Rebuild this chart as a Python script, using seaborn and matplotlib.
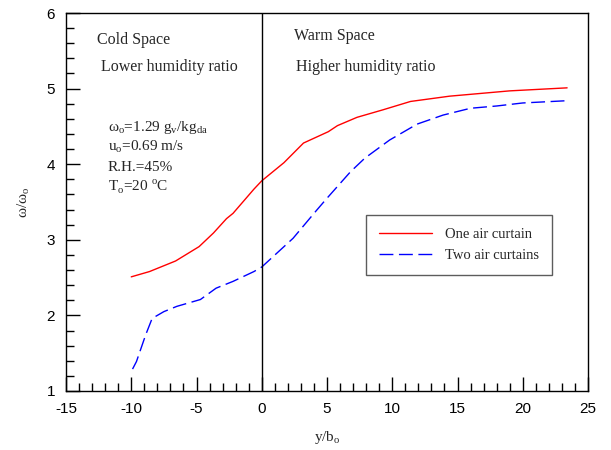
import numpy as np
import pandas as pd
import matplotlib
matplotlib.use("Agg")
import matplotlib.pyplot as plt
from matplotlib.ticker import MultipleLocator
import seaborn as sns

# --- data ---
x_one = [-10.0, -8.6, -6.6, -4.8, -3.7, -2.7, -2.2, -1.3, -0.6, 0.0, 1.7, 3.2, 5.1, 5.8, 7.3, 9.3, 11.4, 14.4, 19.0, 23.4]
y_one = [2.51, 2.58, 2.72, 2.91, 3.09, 3.28, 3.35, 3.53, 3.67, 3.78, 4.02, 4.28, 4.43, 4.51, 4.62, 4.72, 4.83, 4.90, 4.97, 5.01]
x_two = [-9.9, -9.6, -8.9, -8.4, -7.5, -6.5, -4.7, -3.5, -2.2, -0.6, 0.0, 2.4, 4.2, 5.0, 6.8, 7.9, 9.8, 11.9, 13.9, 16.0, 18.0, 20.0, 23.4]
y_two = [1.29, 1.39, 1.74, 1.96, 2.05, 2.12, 2.21, 2.36, 2.45, 2.58, 2.64, 3.02, 3.39, 3.55, 3.90, 4.08, 4.32, 4.53, 4.65, 4.74, 4.77, 4.81, 4.84]
series_names = ["One air curtain", "Two air curtains"]

df = pd.concat([
    pd.DataFrame({"x": x_one, "y": y_one, "series": series_names[0]}),
    pd.DataFrame({"x": x_two, "y": y_two, "series": series_names[1]}),
])

sns.set_style("ticks")
plt.rcParams["font.family"] = ["Liberation Sans", "DejaVu Sans"]
plt.rcParams["axes.unicode_minus"] = False
serif = ["Liberation Serif", "DejaVu Serif"]

fig = plt.figure(figsize=(6.11, 4.5), dpi=100)
ax = fig.add_axes([66/611, 1-391/450, (588-66)/611, (391-13)/450])

sns.lineplot(data=df, x="x", y="y", hue="series", style="series",
             palette={series_names[0]: "#ff0000", series_names[1]: "#0000ff"},
             dashes={series_names[0]: "", series_names[1]: (10, 4)},
             sort=False, estimator=None, linewidth=1.0, ax=ax, legend=True)

ax.axvline(0, color="black", linewidth=1.0)
ax.set_xlim(-15, 25)
ax.set_ylim(1, 6)
ax.xaxis.set_major_locator(MultipleLocator(5))
ax.xaxis.set_minor_locator(MultipleLocator(1))
ax.yaxis.set_major_locator(MultipleLocator(1))
ax.yaxis.set_minor_locator(MultipleLocator(0.2))
ax.tick_params(which="both", direction="in", top=False, right=False, colors="black", labelsize=11)
ax.tick_params(which="major", length=10, width=1)
ax.tick_params(which="minor", length=6, width=1)
ax.tick_params(axis="x", which="major", pad=8)
ax.tick_params(axis="y", which="major", pad=8)
for s in ax.spines.values():
    s.set_visible(True)
    s.set_color("black")
    s.set_linewidth(1.0)

ax.set_xlabel("y/b$_\\mathregular{o}$", family=serif, fontsize=11, labelpad=9)
ax.set_ylabel("ω/ω$_\\mathregular{o}$", family=serif, fontsize=11, labelpad=10)

tk = dict(family=serif, fontsize=11.5, va="center", ha="left")
ax.text(-12.6, 5.64, "Cold Space", **tk)
ax.text(-12.3, 5.28, "Lower humidity ratio", **tk)
ax.text(2.5, 5.70, "Warm Space", **tk)
ax.text(2.6, 5.28, "Higher humidity ratio", **tk)
ak = dict(family=serif, fontsize=11, va="center", ha="left")
ax.text(-11.8, 4.48, "ω$_\\mathregular{o}$=1.29 g$_\\mathregular{v}$/kg$_\\mathregular{da}$", **ak)
ax.text(-11.8, 4.23, "u$_\\mathregular{o}$=0.69 m/s", **ak)
ax.text(-11.8, 3.95, "R.H.=45%", **ak)
ax.text(-11.8, 3.70, "T$_\\mathregular{o}$=20 $^\\mathregular{o}$C", **ak)

leg = ax.legend(loc="upper left", bbox_to_anchor=((366-66)/522, (391-215)/378),
                borderaxespad=0, frameon=True, fancybox=False, edgecolor="#333333",
                prop={"family": serif, "size": 10.5}, handlelength=3.6,
                borderpad=0.9, labelspacing=0.5, handletextpad=0.9)
leg.get_frame().set_linewidth(1.0)
leg.set_title(None)

fig.savefig("out.png", dpi=100)
